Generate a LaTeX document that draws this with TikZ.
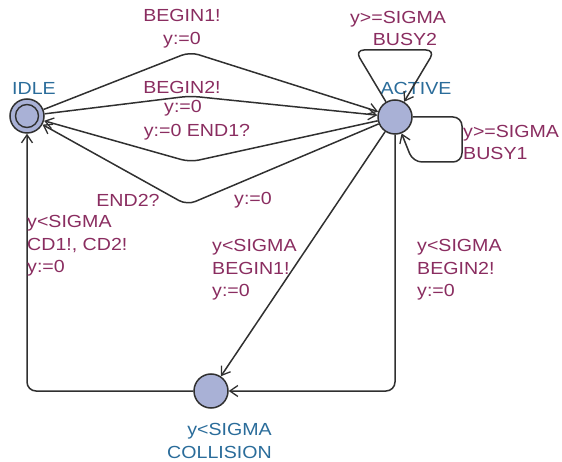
\documentclass[tikz,border=0pt]{standalone}
\usepackage{fontspec}
\setmainfont{Liberation Sans}[FakeStretch=1.12]
\usetikzlibrary{arrows.meta}
\definecolor{lab}{HTML}{8A2D60}
\definecolor{nam}{HTML}{2A6C9A}
\definecolor{fillc}{HTML}{A9B1D6}
\definecolor{edgec}{HTML}{303030}
\begin{document}
\begin{tikzpicture}[x=1pt,y=-1pt,
  loc/.style={circle,draw=edgec,line width=1.5pt,fill=fillc,minimum size=34pt,inner sep=0pt},
  edge/.style={draw=edgec,line width=1.5pt,rounded corners=9pt,-{Straight Barb[length=8pt,width=11pt,line width=1.3pt]}},
  txt/.style={font=\fontsize{17.5}{22.5}\selectfont,inner sep=0pt},
  lbl/.style={txt,text=lab},
  nm/.style={txt,text=nam}]
\useasboundingbox (0,0) rectangle (562,462);
\node[loc] (IDLE) at (27,116) {};
\draw[edgec,line width=1.4pt] (IDLE.center) circle (11.5pt);
\node[loc] (ACTIVE) at (395,117) {};
\node[loc] (COLL) at (211,391) {};
% names
\node[nm] (nIDLE) at (34,88) {IDLE};
\node[nm] (nACT) at (416,88) {ACTIVE};
\node[nm,align=right,anchor=east] (nCOLL) at (272,441) {y<SIGMA\\COLLISION};
% edges
\draw[edge] (IDLE) -- (190,52) -- (ACTIVE);
\draw[edge] (IDLE) -- (190,96) -- (ACTIVE);
\draw[edge] (ACTIVE) -- (190,162) -- (IDLE);
\draw[edge] (ACTIVE) -- (187,205) -- (IDLE);
\draw[edge] (ACTIVE) -- (355,50) -- (435,50) -- (ACTIVE);
\draw[edge] (ACTIVE.east) -- (462,117) -- (462,162) -- (413,162) -- (ACTIVE);
\draw[edge,rounded corners=0pt] (ACTIVE) -- (COLL);
\draw[edge] (ACTIVE.south) -- (395,391) -- (COLL);
\draw[edge] (COLL.west) -- (27,391) -- (IDLE.south);
% labels
\node[lbl,align=center] (l1) at (182,28.5) {BEGIN1!\\y:=0};
\node[lbl] (l2a) at (182,87) {BEGIN2!};
\node[lbl] (l2b) at (183,108) {y:=0};
\node[lbl] (l3) at (197,132) {y:=0 END1?};
\node[lbl] (l4a) at (128,200) {END2?};
\node[lbl] (l4b) at (253,200) {y:=0};
\node[lbl,align=center] (l5) at (398,28.5) {y>=SIGMA\\\hspace*{14pt}BUSY2};
\node[lbl,align=left,anchor=west] (l6) at (463,142.5) {y>=SIGMA\\BUSY1};
\node[lbl,align=left,anchor=west] (l7) at (212,270) {y<SIGMA\\BEGIN1!\\y:=0};
\node[lbl,align=left,anchor=west] (l8) at (417,270) {y<SIGMA\\BEGIN2!\\y:=0};
\node[lbl,align=left,anchor=west] (l9) at (27,246) {y<SIGMA\\CD1!, CD2!\\y:=0};
\end{tikzpicture}
\end{document}
